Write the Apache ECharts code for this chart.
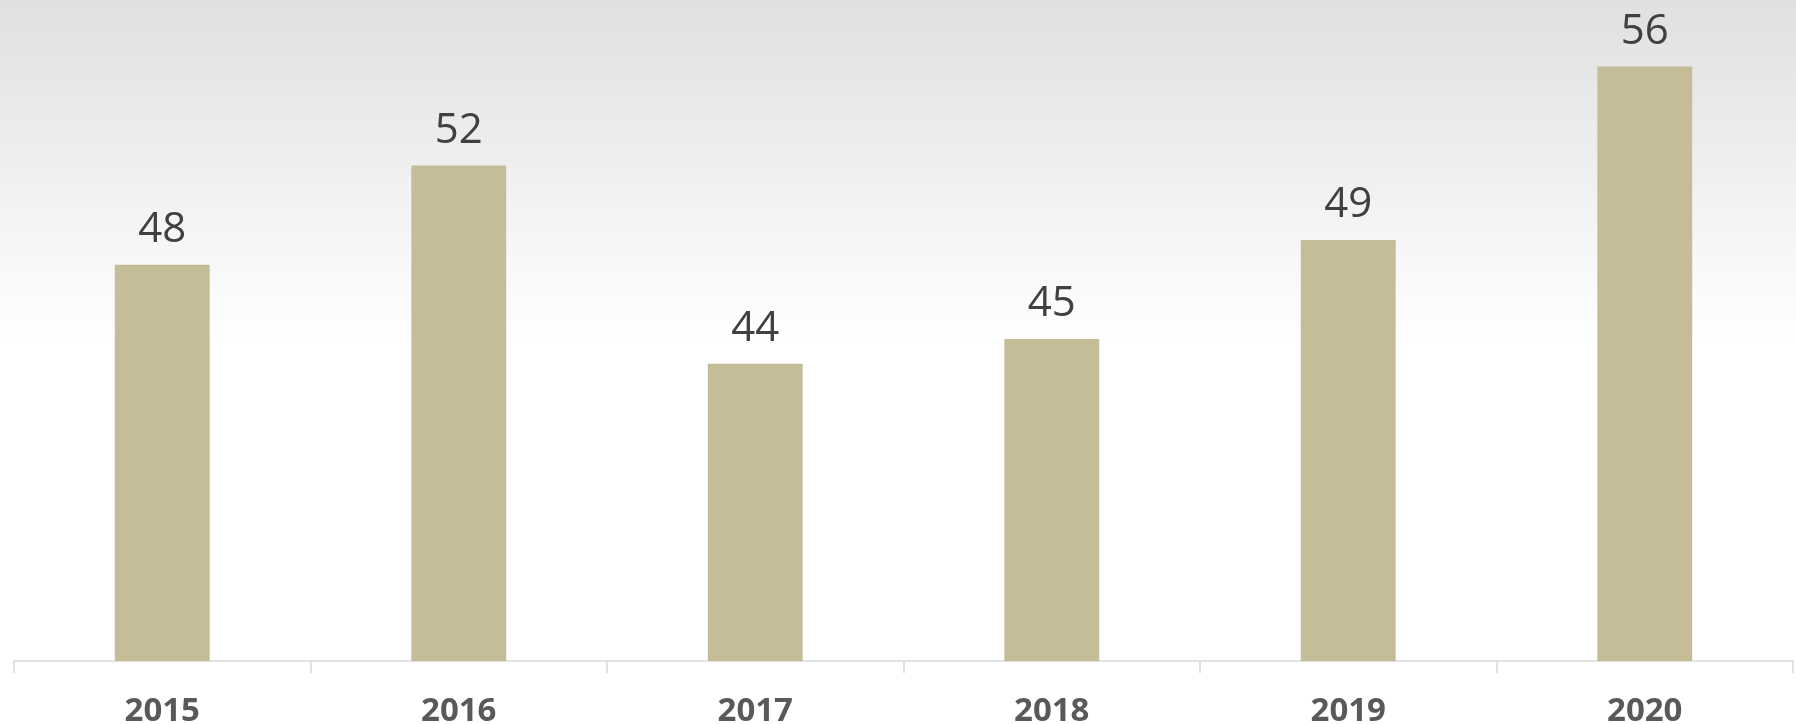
<!DOCTYPE html>
<html>
<head>
<meta charset="utf-8">
<script src="https://cdn.jsdelivr.net/npm/echarts@6/dist/echarts.min.js"></script>
<style>html,body{margin:0;padding:0;background:#fff}#c{width:1796px;height:724px}</style>
</head>
<body>
<div id="c"></div>
<script>
const categories = ['2015', '2016', '2017', '2018', '2019', '2020'];
const values = [48, 52, 44, 45, 49, 56];

const chart = echarts.init(document.getElementById('c'), null, {renderer: 'canvas'});
chart.setOption({
  animation: false,
  graphic: [{
    type: 'rect', z: -10, silent: true,
    shape: {x: 0, y: 0, width: 1796, height: 724},
    style: {fill: {type: 'linear', x: 0, y: 0, x2: 0, y2: 1, colorStops: [
      {offset: 0, color: '#e0e0e0'},
      {offset: 0.47, color: '#ffffff'},
      {offset: 1, color: '#ffffff'}
    ]}}
  }],
  grid: {left: 14, right: 3, top: 17, bottom: 63, containLabel: false, outerBoundsMode: 'none'},
  xAxis: {
    type: 'category',
    data: categories,
    axisLine: {lineStyle: {color: '#d9d9d9', width: 1.5}},
    axisTick: {show: true, length: 12, lineStyle: {color: '#d9d9d9', width: 1.5}},
    axisLabel: {color: '#595959', fontSize: 33, fontWeight: 'bold', fontFamily: 'Open Sans', margin: 34}
  },
  yAxis: {
    type: 'value', min: 32, max: 58, show: false, splitLine: {show: false}
  },
  series: [{
    type: 'bar',
    data: values,
    barWidth: '32%',
    itemStyle: {color: '#c4bd97'},
    label: {show: true, position: 'top', distance: 14, color: '#404040', fontSize: 42, fontFamily: 'Open Sans'}
  }]
});
</script>
</body>
</html>
